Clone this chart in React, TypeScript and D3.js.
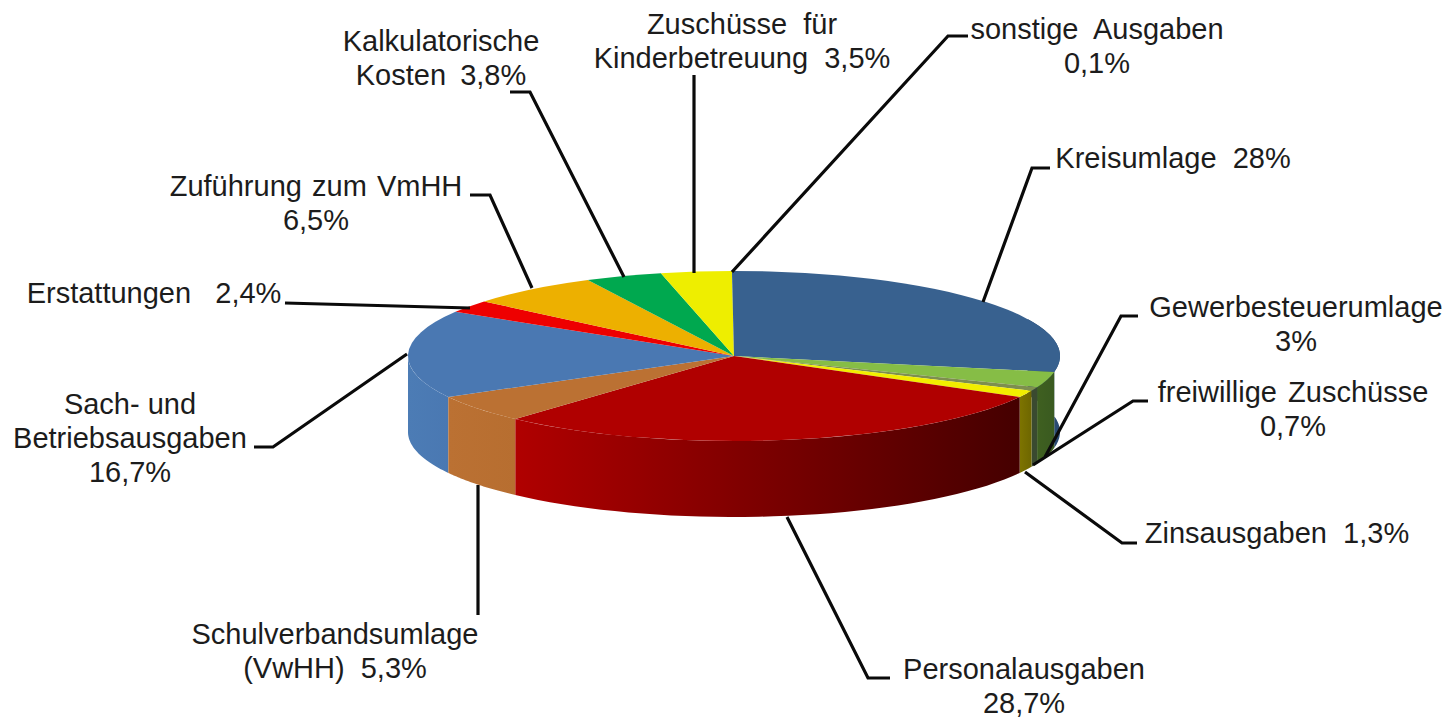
import React from "react";
import * as d3 from "d3";

const categories = ["Kreisumlage","Gewerbesteuerumlage","freiwillige Zuschüsse","Zinsausgaben","Personalausgaben","Schulverbandsumlage","Sach- und Betriebsausgaben","Erstattungen","Zuführung zum VmHH","Kalkulatorische Kosten","Zuschüsse für Kinderbetreuung","sonstige Ausgaben"];
const shares = [28,3,0.7,1.3,28.7,5.3,16.7,2.4,6.5,3.8,3.5,0.1];
const topColors = ["#38618f","#86bd46","#7d8f4e","#f2ee00","#b00000","#bb7133","#4a78b2","#ee0000","#edb000","#00a84f","#eeee00","#38618f"];
const sideFrom = ["#2a4c74","#3f6020","#3a4a30","#7d7400","#b00000","#bb7133","#4c7cb5","#c00000","#c09000","#008040","#c0c000","#38618f"];
const sideTo = ["#24426a","#3a5a20","#3a4a30","#6e6600","#450000","#b76e30","#4a78b2","#a00000","#a08000","#007038","#a0a000","#38618f"];

const labelLines = [
  ["Kreisumlage  28%"],["Gewerbesteuerumlage","3%"],["freiwillige  Zuschüsse","0,7%"],["Zinsausgaben  1,3%"],["Personalausgaben","28,7%"],["Schulverbandsumlage","(VwHH)  5,3%"],["Sach- und","Betriebsausgaben","16,7%"],["Erstattungen   2,4%"],["Zuführung  zum  VmHH","6,5%"],["Kalkulatorische","Kosten  3,8%"],["Zuschüsse  für","Kinderbetreuung  3,5%"],["sonstige  Ausgaben","0,1%"],
];
const labelAnchors: [number,number][] = [[1173,168],[1296,317],[1293,402],[1277,543],[1024,679],[335,644],[130,414],[154,303],[316,196],[441,51],[742,34],[1097,39]];
const labelWordSpacing = [0,0,-2.5,0,0,0,0,0,-3,-1,0,0];
const leaders: [number,number][][] = [
  [[1050,168],[1032,168],[983,302]],
  [[1138,316],[1121,316],[1045,457]],
  [[1148,401],[1133,401],[1033,465]],
  [[1137,543],[1122,543],[1025,472]],
  [[890,678],[868,678],[787,517]],
  [[478,615],[478,485]],
  [[254,447],[273,447],[407,354]],
  [[285,303],[470,308]],
  [[470,195],[490,195],[532,288]],
  [[510,92],[530,92],[624,277]],
  [[694,75],[694,273]],
  [[968,36],[948,36],[732,272]],
];

const W = 1447, H = 718;
const cx = 734, cy = 356, rx = 326, ry = 85, depth = 76, lineH = 34;

export default function App() {
  const arcs = d3.pie<number>().sort(null).value(d => d)(shares);
  const arc = d3.arc<d3.PieArcDatum<number>>().innerRadius(0).outerRadius(rx);
  const px = (a: number) => cx + rx * Math.sin(a);
  const py = (a: number) => cy - ry * Math.cos(a);
  const xg = d3.scaleLinear().domain([cx - rx, cx + rx]).range([cx - rx, cx + rx]);

  const sides = arcs.map((d, i) => {
    const a0 = Math.max(d.startAngle, Math.PI / 2 - 0.45);
    const a1 = d.endAngle;
    if (d.endAngle <= Math.PI / 2 - 0.45 || d.startAngle >= (3 * Math.PI) / 2) return null;
    const end = Math.min(a1, (3 * Math.PI) / 2);
    const pts = d3.range(0, 41).map(k => a0 + ((end - a0) * k) / 40);
    const top = pts.map(a => [px(a), py(a)] as [number, number]);
    const bot = pts.slice().reverse().map(a => [px(a), py(a) + depth] as [number, number]);
    const path = d3.line()([...top, ...bot]) + "Z";
    const xs = top.map(p => p[0]);
    return { i, path, x1: xg(d3.min(xs)!), x2: xg(d3.max(xs)!) };
  }).filter(Boolean) as { i: number; path: string; x1: number; x2: number }[];
  const order = sides.slice().sort((a, b) => {
    const da = Math.abs(arcs[a.i].startAngle / 2 + arcs[a.i].endAngle / 2 - Math.PI);
    const db = Math.abs(arcs[b.i].startAngle / 2 + arcs[b.i].endAngle / 2 - Math.PI);
    return db - da;
  });

  return (
    <svg width={W} height={H} viewBox={`0 0 ${W} ${H}`} style={{ position: "absolute", left: 0, top: 0, background: "#fff" }}>
      <defs>
        {sides.map(s => (
          <linearGradient key={s.i} id={`side${s.i}`} gradientUnits="userSpaceOnUse" x1={s.x1} x2={s.x2} y1={0} y2={0}>
            <stop offset="0" stopColor={s.i === 0 ? sideTo[0] : sideFrom[s.i]} />
            <stop offset="1" stopColor={s.i === 0 ? sideFrom[0] : sideTo[s.i]} />
          </linearGradient>
        ))}
      </defs>
      {order.map(s => <path key={s.i} d={s.path} fill={`url(#side${s.i})`} />)}
      <g transform={`translate(${cx},${cy}) scale(1,${ry / rx})`}>
        {arcs.map((d, i) => <path key={i} d={arc(d)!} fill={topColors[i]} />)}
      </g>
      <g fill="none" stroke="#0a0a0a" strokeWidth={3.2}>
        {leaders.map((l, i) => <path key={i} d={d3.line()(l)!} />)}
      </g>
      <g fontFamily="'Liberation Sans', Arial, sans-serif" fontSize={29} fill="#1c1c1c" textAnchor="middle">
        {labelLines.map((lines, i) => (
          <text key={i} aria-label={categories[i]} wordSpacing={labelWordSpacing[i]} style={{ whiteSpace: "pre" }}>
            {lines.map((t, j) => <tspan key={j} x={labelAnchors[i][0]} y={labelAnchors[i][1] + j * lineH}>{t}</tspan>)}
          </text>
        ))}
      </g>
    </svg>
  );
}
